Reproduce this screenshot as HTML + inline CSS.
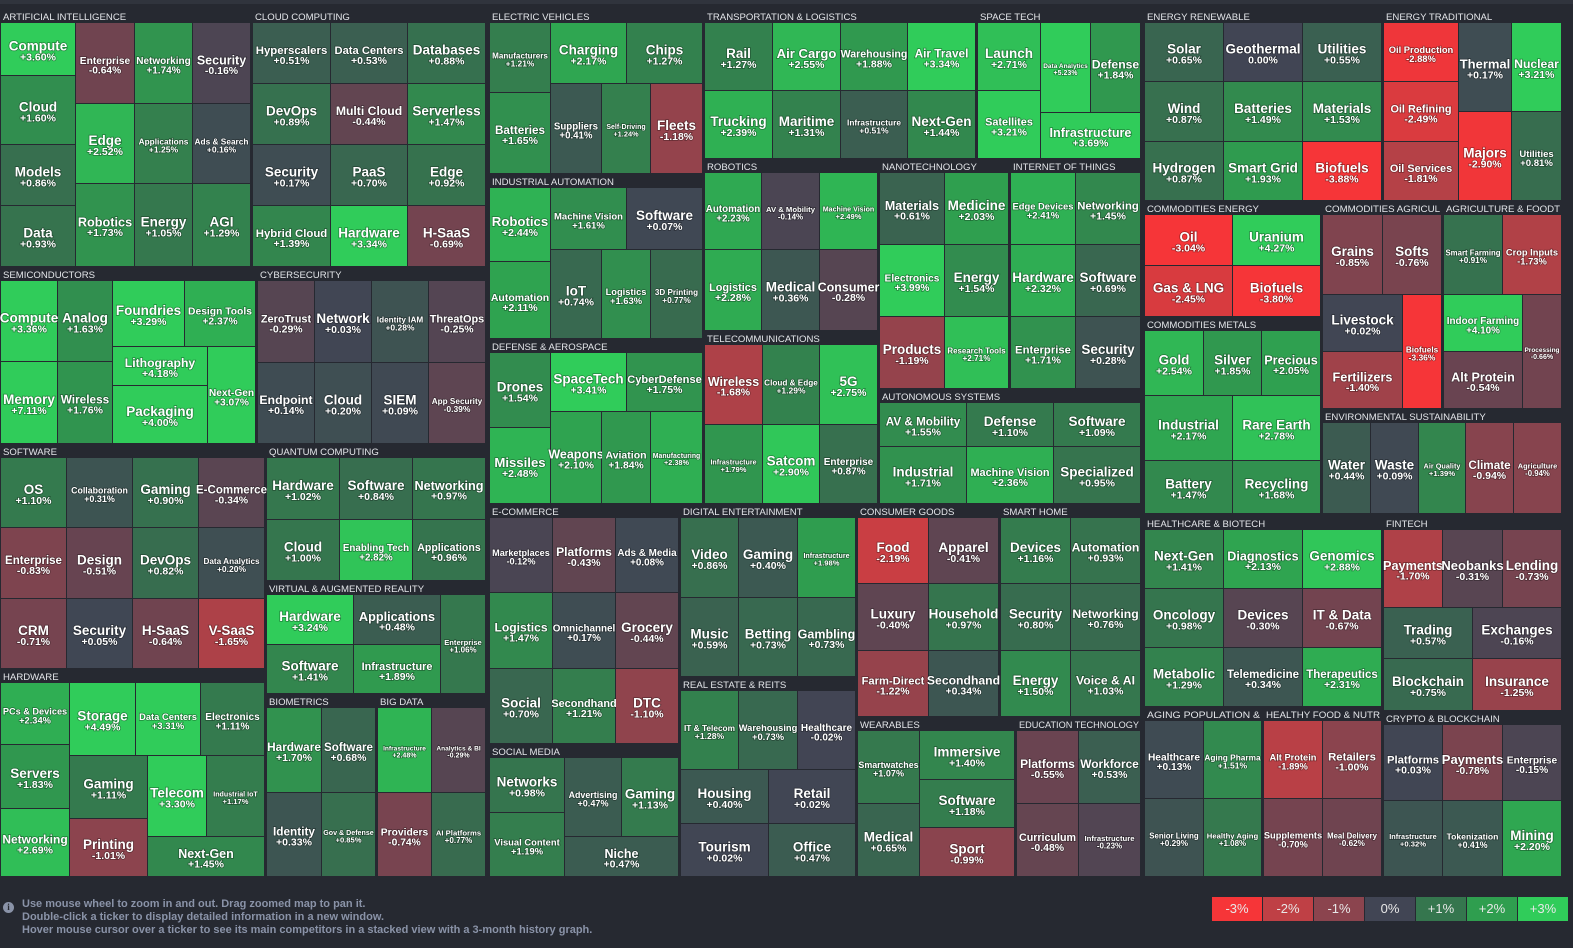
<!DOCTYPE html>
<html><head><meta charset="utf-8">
<style>
html,body{margin:0;padding:0;background:#262931;}
body{width:1573px;height:948px;overflow:hidden;font-family:"Liberation Sans",sans-serif;}
svg{display:block}
.hd{font-size:9.6px;fill:#e4e6ea}
.nm{fill:#fff;font-weight:bold;text-anchor:middle}
.info{position:absolute;left:22px;top:898px;color:#8a93a8;font-size:11px;line-height:13px;font-weight:bold}
.icon{position:absolute;left:3px;top:902px;width:11px;height:11px;border-radius:50%;background:#8a93a8;color:#262931;font-size:9px;font-weight:bold;text-align:center;line-height:11px;font-family:"Liberation Serif",serif}
.legend{position:absolute;left:1212px;top:897px;display:flex}
.legend div{width:50px;height:24px;margin-right:1px;color:#e8e8e8;font-size:13px;text-align:center;line-height:24px}
</style></head>
<body>
<svg id="map" width="1573" height="890" xmlns="http://www.w3.org/2000/svg">
<rect x="0" y="0" width="1573" height="4" fill="#30343d"></rect>
</svg>
<div class="icon">i</div>
<div class="info">Use mouse wheel to zoom in and out. Drag zoomed map to pan it.<br>Double-click a ticker to display detailed information in a new window.<br>Hover mouse cursor over a ticker to see its main competitors in a stacked view with a 3-month history graph.</div>
<div class="legend">
<div style="background:#f63538">-3%</div>
<div style="background:#bf4045">-2%</div>
<div style="background:#8b444e">-1%</div>
<div style="background:#414554">0%</div>
<div style="background:#35764e">+1%</div>
<div style="background:#2f9e4f">+2%</div>
<div style="background:#30cc5a">+3%</div>
</div>
<script>
function L(n,v,w){return {n:n,v:v,w:w||1};}
function R(w){return {d:'r',w:w,k:[].slice.call(arguments,1)};}
function C(w){return {d:'c',w:w,k:[].slice.call(arguments,1)};}
function G(rows){return C.apply(null,[1].concat(rows.map(function(r){return R.apply(null,[1].concat(r.map(function(c){return L(c[0],c[1]);})));})));}

const colorStops=[-3,-2,-1,0,1,2,3];
const colorHex=['#f63538','#bf4045','#8b444e','#414554','#35764e','#2f9e4f','#30cc5a'];

const sectors=[
['ARTIFICIAL INTELLIGENCE',0,10,252,258,R(1,C(76,L('Compute',3.60,53),L('Cloud',1.60,69),L('Models',0.86,62),L('Data',0.93,61)),C(59,L('Enterprise',-0.64,81),L('Edge',2.52,81),L('Robotics',1.73,83)),C(59,L('Networking',1.74,81),L('Applications',1.25,81),L('Energy',1.05,83)),C(58,L('Security',-0.16,81),L('Ads & Search',0.16,81),L('AGI',1.29,83)))],
['CLOUD COMPUTING',252,10,235,258,G([[['Hyperscalers',0.51],['Data Centers',0.53],['Databases',0.88]],[['DevOps',0.89],['Multi Cloud',-0.44],['Serverless',1.47]],[['Security',0.17],['PaaS',0.70],['Edge',0.92]],[['Hybrid Cloud',1.39],['Hardware',3.34],['H-SaaS',-0.69]]])],
['ELECTRIC VEHICLES',489,10,215,165,R(1,C(62,L('Manufacturers',1.21,70),L('Batteries',1.65,82)),C(153,R(61,L('Charging',2.17,77),L('Chips',1.27,76)),R(91,L('Suppliers',0.41,51),L('Self-Driving',1.24,50),L('Fleets',-1.18,52))))],
['TRANSPORTATION & LOGISTICS',704,10,273,150,G([[['Rail',1.27],['Air Cargo',2.55],['Warehousing',1.88],['Air Travel',3.34]],[['Trucking',2.39],['Maritime',1.31],['Infrastructure',0.51],['Next-Gen',1.44]]])],
['SPACE TECH',977,10,165,150,R(1,C(64,L('Launch',2.71),L('Satellites',3.21)),C(101,R(91,L('Data Analytics',5.23,51),L('Defense',1.84,50)),L('Infrastructure',3.69,46)))],
['INDUSTRIAL AUTOMATION',489,175,215,165,R(1,C(62,L('Robotics',2.44,74),L('Automation',2.11,78)),C(153,R(62,L('Machine Vision',1.61),L('Software',0.07)),R(90,L('IoT',0.74,51),L('Logistics',1.63,50),L('3D Printing',0.77,52))))],
['ROBOTICS',704,160,175,172,R(1,C(58,L('Automation',2.23,78),L('Logistics',2.28,82)),C(117,R(78,L('AV & Mobility',-0.14),L('Machine Vision',2.49)),R(82,L('Medical',0.36),L('Consumer',-0.28))))],
['NANOTECHNOLOGY',879,160,131,230,G([[['Materials',0.61],['Medicine',2.03]],[['Electronics',3.99],['Energy',1.54]],[['Products',-1.19],['Research Tools',2.71]]])],
['INTERNET OF THINGS',1010,160,132,230,G([[['Edge Devices',2.41],['Networking',1.45]],[['Hardware',2.32],['Software',0.69]],[['Enterprise',1.71],['Security',0.28]]])],
['TELECOMMUNICATIONS',704,332,175,173,G([[['Wireless',-1.68],['Cloud & Edge',1.29],['5G',2.75]],[['Infrastructure',1.79],['Satcom',2.90],['Enterprise',0.87]]])],
['AUTONOMOUS SYSTEMS',879,390,263,115,C(1,R(44,L('AV & Mobility',1.55),L('Defense',1.10),L('Software',1.09)),R(58,L('Industrial',1.71),L('Machine Vision',2.36),L('Specialized',0.95)))],
['DEFENSE & AEROSPACE',489,340,215,165,R(1,C(62,L('Drones',1.54,75),L('Missiles',2.48,77)),C(153,R(59,L('SpaceTech',3.41),L('CyberDefense',1.75)),R(93,L('Weapons',2.10,51),L('Aviation',1.84,50),L('Manufacturing',2.38,52))))],
['ENERGY RENEWABLE',1144,10,239,192,G([[['Solar',0.65],['Geothermal',0.00],['Utilities',0.55]],[['Wind',0.87],['Batteries',1.49],['Materials',1.53]],[['Hydrogen',0.87],['Smart Grid',1.93],['Biofuels',-3.88]]])],
['ENERGY TRADITIONAL',1383,10,180,192,R(1,C(76,L('Oil Production',-2.88),L('Oil Refining',-2.49),L('Oil Services',-1.81)),C(53,L('Thermal',0.17),L('Majors',-2.90)),C(51,L('Nuclear',3.21),L('Utilities',0.81)))],
['COMMODITIES ENERGY',1144,202,178,116,G([[['Oil',-3.04],['Uranium',4.27]],[['Gas & LNG',-2.45],['Biofuels',-3.80]]])],
['COMMODITIES AGRICUL',1322,202,121,208,C(1,R(80,L('Grains',-0.85),L('Softs',-0.76)),R(115,C(81,L('Livestock',0.02,57),L('Fertilizers',-1.40,58)),L('Biofuels',-3.36,40)))],
['AGRICULTURE & FOODT',1443,202,120,208,C(1,R(80,L('Smart Farming',0.91),L('Crop Inputs',-1.73)),R(115,C(80,L('Indoor Farming',4.10,57),L('Alt Protein',-0.54,58)),L('Processing',-0.66,40)))],
['COMMODITIES METALS',1144,318,178,197,C(1,R(65,L('Gold',2.54),L('Silver',1.85),L('Precious',2.05)),R(66,L('Industrial',2.17),L('Rare Earth',2.78)),R(53,L('Battery',1.47),L('Recycling',1.68)))],
['ENVIRONMENTAL SUSTAINABILITY',1322,410,241,105,G([[['Water',0.44],['Waste',0.09],['Air Quality',1.39],['Climate',-0.94],['Agriculture',-0.94]]])],
['SEMICONDUCTORS',0,268,257,177,R(1,C(57,L('Compute',3.36,81),L('Memory',7.11,83)),C(56,L('Analog',1.63,81),L('Wireless',1.76,83)),C(144,R(66,L('Foundries',3.29),L('Design Tools',2.37)),R(98,C(96,L('Lithography',4.18,39),L('Packaging',4.00,59)),L('Next-Gen',3.07,48))))],
['CYBERSECURITY',257,268,230,177,G([[['ZeroTrust',-0.29],['Network',0.03],['Identity IAM',0.28],['ThreatOps',-0.25]],[['Endpoint',0.14],['Cloud',0.20],['SIEM',0.09],['App Security',-0.39]]])],
['SOFTWARE',0,445,266,225,G([[['OS',1.10],['Collaboration',0.31],['Gaming',0.90],['E-Commerce',-0.34]],[['Enterprise',-0.83],['Design',-0.51],['DevOps',0.82],['Data Analytics',0.20]],[['CRM',-0.71],['Security',0.05],['H-SaaS',-0.64],['V-SaaS',-1.65]]])],
['QUANTUM COMPUTING',266,445,221,137,G([[['Hardware',1.02],['Software',0.84],['Networking',0.97]],[['Cloud',1.00],['Enabling Tech',2.82],['Applications',0.96]]])],
['VIRTUAL & AUGMENTED REALITY',266,582,221,113,R(1,C(176,R(50,L('Hardware',3.24),L('Applications',0.48)),R(50,L('Software',1.41),L('Infrastructure',1.89))),L('Enterprise',1.06,45))],
['HARDWARE',0,670,266,208,R(1,C(70,L('PCs & Devices',2.34,62),L('Servers',1.83,65),L('Networking',2.69,68)),C(196,R(73,L('Storage',4.49,66),L('Data Centers',3.31,66),L('Electronics',1.11,64)),R(122,C(78,L('Gaming',1.11,64),L('Printing',-1.01,58)),C(118,R(82,L('Telecom',3.30),L('Industrial IoT',1.17)),L('Next-Gen',1.45,40)))))],
['BIOMETRICS',266,695,111,183,G([[['Hardware',1.70],['Software',0.68]],[['Identity',0.33],['Gov & Defense',0.85]]])],
['BIG DATA',377,695,110,183,G([[['Infrastructure',2.48],['Analytics & BI',-0.29]],[['Providers',-0.74],['AI Platforms',0.77]]])],
['E-COMMERCE',489,505,191,240,G([[['Marketplaces',-0.12],['Platforms',-0.43],['Ads & Media',0.08]],[['Logistics',1.47],['Omnichannel',0.17],['Grocery',-0.44]],[['Social',0.70],['Secondhand',1.21],['DTC',-1.10]]])],
['SOCIAL MEDIA',489,745,191,133,R(1,C(76,L('Networks',0.98,55),L('Visual Content',1.19,65)),C(115,R(80,L('Advertising',0.47),L('Gaming',1.13)),L('Niche',0.47,40)))],
['DIGITAL ENTERTAINMENT',680,505,177,173,G([[['Video',0.86],['Gaming',0.40],['Infrastructure',1.98]],[['Music',0.59],['Betting',0.73],['Gambling',0.73]]])],
['REAL ESTATE & REITS',680,678,177,200,C(1,R(79,L('IT & Telecom',1.28),L('Warehousing',0.73),L('Healthcare',-0.02)),R(55,L('Housing',0.40),L('Retail',0.02)),R(53,L('Tourism',0.02),L('Office',0.47)))],
['CONSUMER GOODS',857,505,143,213,G([[['Food',-2.19],['Apparel',-0.41]],[['Luxury',-0.40],['Household',0.97]],[['Farm-Direct',-1.22],['Secondhand',0.34]]])],
['SMART HOME',1000,505,142,213,G([[['Devices',1.16],['Automation',0.93]],[['Security',0.80],['Networking',0.76]],[['Energy',1.50],['Voice & AI',1.03]]])],
['WEARABLES',857,718,159,160,R(1,C(63,L('Smartwatches',1.07),L('Medical',0.65)),C(96,L('Immersive',1.40),L('Software',1.18),L('Sport',-0.99)))],
['EDUCATION TECHNOLOGY',1016,718,126,160,G([[['Platforms',-0.55],['Workforce',0.53]],[['Curriculum',-0.48],['Infrastructure',-0.23]]])],
['HEALTHCARE & BIOTECH',1144,517,239,191,G([[['Next-Gen',1.41],['Diagnostics',2.13],['Genomics',2.88]],[['Oncology',0.98],['Devices',-0.30],['IT & Data',-0.67]],[['Metabolic',1.29],['Telemedicine',0.34],['Therapeutics',2.31]]])],
['FINTECH',1383,517,180,195,C(1,R(78,L('Payments',-1.70),L('Neobanks',-0.31),L('Lending',-0.73)),R(52,L('Trading',0.57),L('Exchanges',-0.16)),R(52,L('Blockchain',0.75),L('Insurance',-1.25)))],
['AGING POPULATION &',1144,708,119,170,G([[['Healthcare',0.13],['Aging Pharma',1.51]],[['Senior Living',0.29],['Healthy Aging',1.08]]])],
['HEALTHY FOOD & NUTR',1263,708,120,170,G([[['Alt Protein',-1.89],['Retailers',-1.00]],[['Supplements',-0.70],['Meal Delivery',-0.62]]])],
['CRYPTO & BLOCKCHAIN',1383,712,180,166,G([[['Platforms',0.03],['Payments',-0.78],['Enterprise',-0.15]],[['Infrastructure',0.32],['Tokenization',0.41],['Mining',2.20]]])]
];

function hex2rgb(h){return [1,3,5].map(function(i){return parseInt(h.substr(i,2),16);});}
function colorFor(v){
  if(v<=colorStops[0])return colorHex[0];
  if(v>=colorStops[colorStops.length-1])return colorHex[colorHex.length-1];
  for(var i=0;i<colorStops.length-1;i++){
    if(v>=colorStops[i]&&v<=colorStops[i+1]){
      var t=(v-colorStops[i])/(colorStops[i+1]-colorStops[i]);
      var a=hex2rgb(colorHex[i]),b=hex2rgb(colorHex[i+1]);
      return 'rgb('+a.map(function(x,j){return Math.round(x+(b[j]-x)*t);}).join(',')+')';
    }
  }
}
var svg=document.getElementById('map');
var NS='http://www.w3.org/2000/svg';
function slug(s){return s.toLowerCase().replace(/&/g,'and').replace(/[^a-z0-9]+/g,'-').replace(/^-|-$/g,'');}
function fmt(v){return (v>0?'+':v<0?'-':'')+Math.abs(v).toFixed(2)+'%';}
function leaf(node,x,y,w,h,sec){
  var g=document.createElementNS(NS,'g');
  
  
  var r=document.createElementNS(NS,'rect');
  r.setAttribute('x',x);r.setAttribute('y',y);
  r.setAttribute('width',Math.max(0,w-1));r.setAttribute('height',Math.max(0,h-1));
  r.setAttribute('fill',colorFor(node.v));
  
  
  g.appendChild(r);
  var fs=Math.min(13.5,(w-3)/(node.n.length*0.55),h/3.2);
  fs=Math.max(6.5,fs);
  var vs=Math.min(10.5,(w-4)/(6.2*0.56),h/3.5);
  vs=Math.max(6.5,Math.min(vs,fs*0.85+1.5));
  var cx=x+(w-1)/2, cy=y+(h-1)/2;
  var t1=document.createElementNS(NS,'text');
  t1.setAttribute('class','nm');t1.setAttribute('x',cx);t1.setAttribute('y',cy+fs*0.1);
  t1.setAttribute('font-size',fs.toFixed(1));
  t1.setAttribute('style','paint-order:stroke;stroke:rgba(0,0,0,0.35);stroke-width:1.5px');
  t1.textContent=node.n;
  
  
  g.appendChild(t1);
  var t2=document.createElementNS(NS,'text');
  t2.setAttribute('class','nm');t2.setAttribute('x',cx);t2.setAttribute('y',cy+fs*0.1+vs*0.95);
  t2.setAttribute('font-size',vs.toFixed(1));
  t2.setAttribute('style','paint-order:stroke;stroke:rgba(0,0,0,0.35);stroke-width:1.5px');
  t2.textContent=fmt(node.v);
  
  
  g.appendChild(t2);
  svg.appendChild(g);
}
function lay(node,x,y,w,h,sec){
  if(!node.d){leaf(node,x,y,w,h,sec);return;}
  var tot=node.k.reduce(function(s,c){return s+c.w;},0);
  var p=0;
  node.k.forEach(function(c){
    var a=Math.round(p/tot*(node.d==='r'?w:h)), b=Math.round((p+c.w)/tot*(node.d==='r'?w:h));
    if(node.d==='r')lay(c,x+a,y,b-a,h,sec);else lay(c,x,y+a,w,b-a,sec);
    p+=c.w;
  });
}
sectors.forEach(function(s){
  var name=s[0],x=s[1],y=s[2],w=s[3],h=s[4];
  var hd=document.createElementNS(NS,'text');
  hd.setAttribute('class','hd');hd.setAttribute('x',x+3);hd.setAttribute('y',y+10);
  hd.textContent=name;
  var est=name.length*6.3;
  if(est>w-6){hd.setAttribute('textLength',w-6);hd.setAttribute('lengthAdjust','spacingAndGlyphs');}
  
  
  svg.appendChild(hd);
  lay(s[5],x+1,y+13,w-2,h-14,name);
});
</script>
</body></html>
